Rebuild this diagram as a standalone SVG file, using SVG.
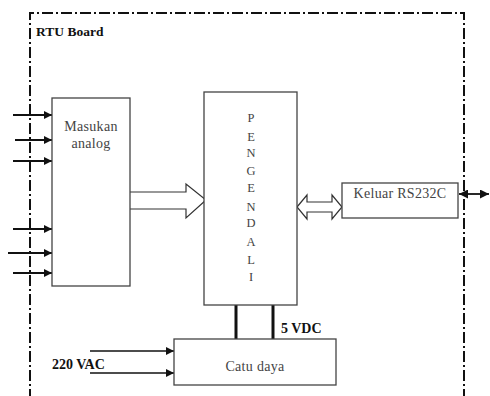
<svg xmlns="http://www.w3.org/2000/svg" width="490" height="396" viewBox="0 0 490 396">
<style>
.box{fill:#fff;stroke:#444;stroke-width:1.3}
.t{font-family:"Liberation Serif","Times New Roman",serif;font-size:14px;letter-spacing:0.3px;fill:#444}
.b{font-family:"Liberation Serif","Times New Roman",serif;font-size:14px;font-weight:bold;fill:#111}
.l{font-family:"Liberation Serif","Times New Roman",serif;font-size:12.5px;fill:#444;text-anchor:middle}
.in{stroke:#111;stroke-width:1.8;fill:none;marker-end:url(#ah)}
.border{fill:none;stroke:#111;stroke-width:2;stroke-dasharray:11 3 2 3}
</style>
<defs>
<marker id="ah" viewBox="0 0 10 10" refX="10" refY="5" markerWidth="9" markerHeight="8" markerUnits="userSpaceOnUse" orient="auto">
<path d="M0,0 L10,5 L0,10 z" fill="#111"/>
</marker>
<marker id="ah2" viewBox="0 0 10 10" refX="10" refY="5" markerWidth="9" markerHeight="9" markerUnits="userSpaceOnUse" orient="auto-start-reverse">
<path d="M0,0 L10,5 L0,10 z" fill="#111"/>
</marker>
</defs>
<rect width="490" height="396" fill="#fff"/>
<g id="board">
<path class="border" d="M30,400 L30,13 L464,13 L464,400"/>
<text class="b" x="36" y="36" style="font-size:13.5px">RTU Board</text>
</g>
<g id="connectors">
<line class="in" x1="13" y1="115" x2="52" y2="115"/>
<line class="in" x1="15" y1="140" x2="52" y2="140"/>
<line class="in" x1="13" y1="161" x2="52" y2="161"/>
<line class="in" x1="13" y1="229" x2="52" y2="229"/>
<line class="in" x1="8" y1="253" x2="52" y2="253"/>
<line class="in" x1="13" y1="273" x2="52" y2="273"/>
<path d="M130,192 L186,192 L186,184 L206,200 L186,218 L186,209 L130,209" fill="#fff" stroke="#333" stroke-width="1.2"/>
<path d="M297,207 L307,195 L307,202 L332,202 L332,195 L342,207 L332,219 L332,212 L307,212 L307,219 z" fill="#fff" stroke="#333" stroke-width="1.2"/>
<line x1="459" y1="194" x2="489" y2="194" stroke="#111" stroke-width="1.8" marker-start="url(#ah2)" marker-end="url(#ah2)"/>
<line x1="236" y1="305" x2="236" y2="339" stroke="#111" stroke-width="3"/>
<line x1="273" y1="305" x2="273" y2="339" stroke="#111" stroke-width="3"/>
<line class="in" x1="90" y1="351" x2="174" y2="351" style="stroke-width:1.3"/>
<line class="in" x1="90" y1="373" x2="174" y2="373" style="stroke-width:1.3"/>
</g>
<g id="masukan">
<rect class="box" x="52" y="98" width="78" height="188"/>
<text class="t" x="91" y="131" text-anchor="middle">Masukan</text>
<text class="t" x="91" y="148" text-anchor="middle">analog</text>
</g>
<g id="pengendali">
<rect class="box" x="204" y="92" width="93" height="213"/>
<text class="l" x="251" y="122">P</text>
<text class="l" x="251" y="141">E</text>
<text class="l" x="251" y="157">N</text>
<text class="l" x="251" y="175">G</text>
<text class="l" x="251" y="192">E</text>
<text class="l" x="251" y="211">N</text>
<text class="l" x="251" y="227">D</text>
<text class="l" x="251" y="246">A</text>
<text class="l" x="251" y="264">L</text>
<text class="l" x="251" y="281">I</text>
</g>
<g id="keluar">
<rect class="box" x="342" y="183" width="116" height="35"/>
<text class="t" x="400" y="198" text-anchor="middle">Keluar RS232C</text>
</g>
<g id="catudaya">
<rect class="box" x="174" y="339" width="162" height="46"/>
<text class="t" x="255" y="371" text-anchor="middle">Catu daya</text>
<text class="b" x="281" y="333">5 VDC</text>
<text class="b" x="52" y="369">220 VAC</text>
</g>
</svg>
